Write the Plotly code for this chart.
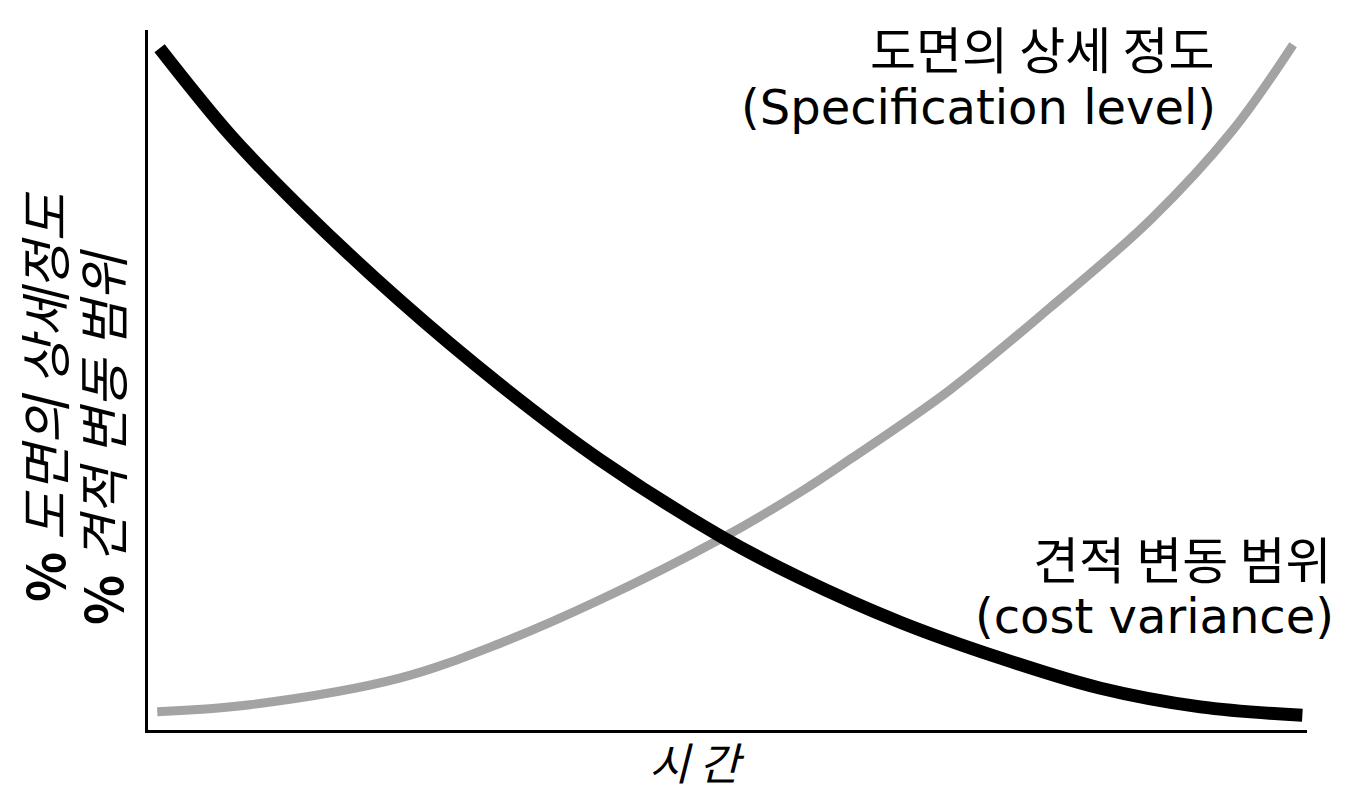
import plotly.graph_objects as go

# Time axis (0-100) and percentage values
cost_t = [1.0, 7.1, 13.1, 21.7, 30.4, 39.0, 49.5, 56.3, 64.9, 73.5, 82.1, 90.8, 99.6]
cost_v = [97.4, 85.0, 74.7, 61.4, 49.3, 38.6, 27.6, 21.7, 15.4, 10.3, 6.0, 3.3, 2.1]

spec_t = [0.8, 8.8, 21.7, 30.4, 39.0, 49.5, 56.3, 60.6, 69.2, 77.8, 86.5, 93.6, 98.8]
spec_v = [2.6, 3.6, 7.4, 12.4, 18.6, 27.4, 34.0, 38.7, 48.6, 60.3, 72.9, 85.7, 97.9]

spec_label = ["도면의 상세 정도", "(Specification level)"]
cost_label = ["견적 변동 범위", "(cost variance)"]
y_title = ["% 도면의 상세정도", "% 견적 변동 범위"]
x_title = "시 간"

FONT = "DejaVu Sans, Noto Sans CJK KR, sans-serif"
KFONT = "Noto Sans CJK KR, DejaVu Sans, sans-serif"

fig = go.Figure()
fig.add_trace(go.Scatter(x=spec_t, y=spec_v, mode="lines",
                         line=dict(color="#a3a3a3", width=9, shape="spline", smoothing=1.0),
                         showlegend=False, hoverinfo="skip"))
fig.add_trace(go.Scatter(x=cost_t, y=cost_v, mode="lines",
                         line=dict(color="#000000", width=13, shape="spline", smoothing=1.0),
                         showlegend=False, hoverinfo="skip"))

W, H = 1361, 795
L, R, T, B = 148, 1307, 30, 730


def px(x):
    return (x - L) / (R - L)


def py(y):
    return (B - y) / (B - T)


ann = []
ann.append(dict(text=spec_label[0], x=px(1216), y=py(47), xanchor="right", yanchor="middle",
                font=dict(family=KFONT, size=50, color="black")))
ann.append(dict(text=spec_label[1], x=px(1218), y=py(107), xanchor="right", yanchor="middle",
                font=dict(family=FONT, size=48, color="black")))
ann.append(dict(text=cost_label[0], x=px(1333), y=py(557), xanchor="right", yanchor="middle",
                font=dict(family=KFONT, size=50, color="black")))
ann.append(dict(text=cost_label[1], x=px(1336), y=py(616), xanchor="right", yanchor="middle",
                font=dict(family=FONT, size=48, color="black")))


def ytxt(s):
    pct, rest = s.split(" ", 1)
    return "<b>" + pct + "</b> <i>" + rest + "</i>"


ann.append(dict(text=ytxt(y_title[0]), x=px(42), y=py(604), xanchor="center", yanchor="bottom",
                textangle=-90, font=dict(family=KFONT, size=52, color="black")))
ann.append(dict(text=ytxt(y_title[1]), x=px(100), y=py(627), xanchor="center", yanchor="bottom",
                textangle=-90, font=dict(family=KFONT, size=52, color="black")))
ann.append(dict(text="<i>" + x_title + "</i>", x=px(697), y=py(795), xanchor="center", yanchor="bottom",
                font=dict(family=KFONT, size=44, color="black")))

for a in ann:
    a.update(xref="paper", yref="paper", showarrow=False)

fig.update_layout(
    width=W, height=H,
    margin=dict(l=L, r=W - R, t=T, b=H - B, pad=0),
    paper_bgcolor="white", plot_bgcolor="white",
    xaxis=dict(range=[0, 100], showline=True, linecolor="black", linewidth=3,
               showgrid=False, zeroline=False, showticklabels=False, ticks=""),
    yaxis=dict(range=[0, 100], showline=True, linecolor="black", linewidth=3,
               showgrid=False, zeroline=False, showticklabels=False, ticks=""),
    annotations=ann,
)

fig.write_html("out.html", config={"displayModeBar": False},
               post_script="document.body.style.margin='0';document.body.style.overflow='hidden';")
